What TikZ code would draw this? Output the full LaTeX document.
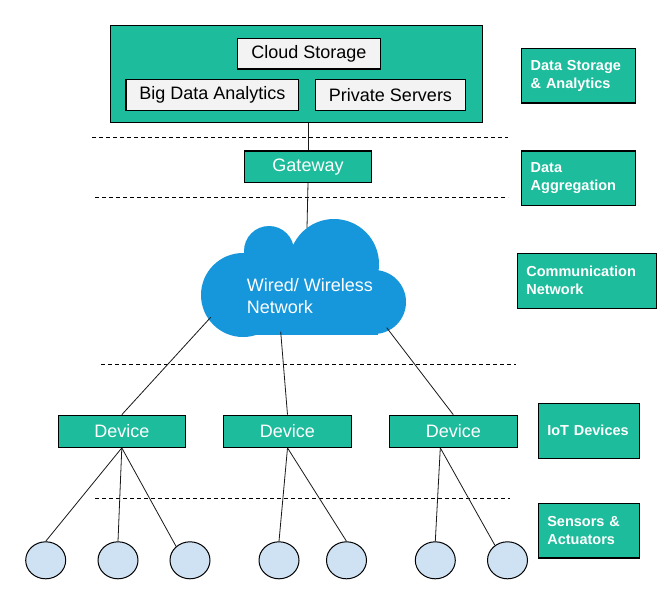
\documentclass[tikz,border=0pt]{standalone}
\usepackage{fontspec}
\setmainfont{Liberation Sans}
\usetikzlibrary{shapes.geometric,calc}
\definecolor{teal1}{RGB}{29,188,156}
\definecolor{gray1}{RGB}{243,243,243}
\definecolor{cloudblue}{RGB}{22,150,219}
\definecolor{sensorblue}{RGB}{207,226,243}
\begin{document}
\begin{tikzpicture}[x=1pt,y=-1pt,
  tealbox/.style={draw=black,line width=1.2pt,fill=teal1,inner sep=0pt},
  graybox/.style={draw=black,line width=1.1pt,fill=gray1,inner sep=0pt,text=black,font=\fontsize{18}{21}\selectfont},
  devbox/.style={tealbox,text=white,font=\fontsize{18}{21}\selectfont,minimum height=32pt,minimum width=128pt},
  layerbox/.style={tealbox,text=white,font=\bfseries\fontsize{14.5}{18}\selectfont,align=left,inner xsep=9pt},
  link/.style={draw=black!90,line width=0.8pt},
  sep/.style={draw=black,line width=0.9pt,dash pattern=on 4pt off 3pt},
  sensor/.style={ellipse,draw=black,line width=1pt,fill=sensorblue,minimum width=40pt,minimum height=37pt,inner sep=0pt}]
\useasboundingbox (0,0) rectangle (669,599);
\fill[white] (0,0) rectangle (669,599);

% top storage box
\node[tealbox,minimum width=372pt,minimum height=96.6pt] (top) at (296.7,74) {};
\node[graybox,minimum width=143.4pt,minimum height=30.7pt] (cs) at (309,53.7) {Cloud Storage};
\node[graybox,minimum width=172.7pt,minimum height=31.4pt] (bda) at (212.3,95) {Big Data Analytics};
\node[graybox,minimum width=150.4pt,minimum height=31.4pt] (ps) at (390.5,95) {Private Servers};

% gateway
\node[devbox,minimum width=127.4pt,minimum height=31.3pt] (gw) at (308,166.7) {Gateway};

% cloud
\fill[cloudblue] (243,295) circle[radius=42pt] (269,251) circle[radius=25pt]
  (334,264) circle[radius=45pt] (374,302) circle[radius=32pt];
\fill[cloudblue] (240,262) rectangle (378,335);
\node[text=white,font=\fontsize{18}{22}\selectfont,align=left,anchor=west,inner sep=0pt] (net) at (246.7,296) {Wired/ Wireless\\Network};
\coordinate (cl0) at (307,228);
\coordinate (cl1) at (210.7,317.3);
\coordinate (cl2) at (280.7,331.7);
\coordinate (cl3) at (386.7,327.7);

% devices
\node[devbox,minimum width=127pt] (d1) at (121.8,431.3) {Device};
\node[devbox,minimum width=128.4pt] (d2) at (287.5,431.3) {Device};
\node[devbox,minimum width=128pt] (d3) at (453.3,431.3) {Device};

% sensors
\node[sensor] (c1) at (45.7,560.3) {};
\node[sensor] (c2) at (118,560.3) {};
\node[sensor] (c3) at (190,560.3) {};
\node[sensor] (c4) at (279,560.3) {};
\node[sensor] (c5) at (346.5,560.3) {};
\node[sensor] (c6) at (435.3,560.3) {};
\node[sensor] (c7) at (507.5,560.3) {};

% layer labels
\node[layerbox,text width=96pt,minimum height=54.3pt] (ds) at (578.7,75.9) {Data Storage\\\& Analytics};
\node[layerbox,text width=96pt,minimum height=54.3pt] (da) at (578.7,178.2) {Data\\Aggregation};
\node[layerbox,text width=121.4pt,minimum height=55pt] (cn) at (587,280.8) {Communication\\Network};
\node[layerbox,text width=83pt,minimum height=55pt] (iot) at (588.8,430.8) {IoT Devices};
\node[layerbox,text width=83pt,minimum height=54.7pt] (sa) at (588.8,530.7) {Sensors \&\\Actuators};

% separators
\draw[sep] (92,137.3) -- (508,137.3);
\draw[sep] (95,197.3) -- (508,197.3);
\draw[sep] (101,364.3) -- (516,364.3);
\draw[sep] (95,498.3) -- (510,498.3);

% connectors
\draw[link] (gw.north) -- (gw.north |- top.south);
\draw[link] (gw.south) -- (cl0);
\draw[link] (cl1) -- (d1.north);
\draw[link] (cl2) -- (d2.north);
\draw[link] (cl3) -- (d3.north);
\draw[link] (d1.south) -- (c1.north);
\draw[link] (d1.south) -- (c2.north);
\draw[link] (d1.south) -- (c3.135);
\draw[link] (d2.south) -- (c4.north);
\draw[link] (d2.south) -- (c5.north);
\coordinate (d3o) at ($(d3.south)+(-13,0)$);
\draw[link] (d3o) -- (c6.north);
\draw[link] (d3o) -- (c7.130);
\end{tikzpicture}
\end{document}
